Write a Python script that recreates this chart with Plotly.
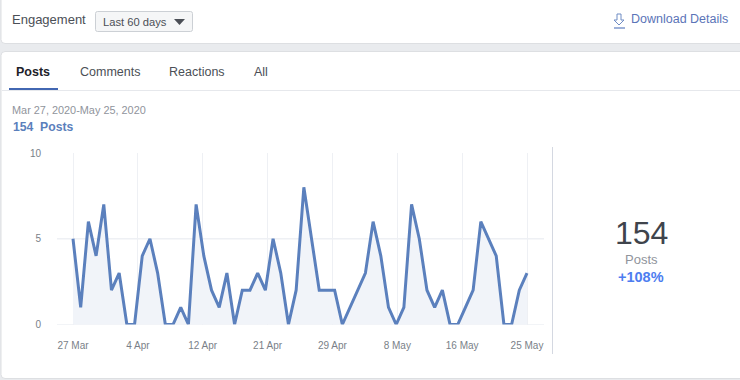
import plotly.graph_objects as go

W, H = 740, 380

# ---- data ----
posts = [5, 1, 6, 4, 7, 2, 3, 0, 0, 4, 5, 3, 0, 0, 1, 0, 7, 4, 2, 1, 3, 0, 2, 2, 3, 2, 5, 3, 0,
         2, 8, 5, 2, 2, 2, 0, 1, 2, 3, 6, 4, 1, 0, 1, 7, 5, 2, 1, 2, 0, 0, 1, 2, 6, 5, 4, 0, 0, 2, 3]
tick_labels = ["27 Mar", "4 Apr", "12 Apr", "21 Apr", "29 Apr", "8 May", "16 May", "25 May"]
y_ticks = [0, 5, 10]
day_index = list(range(len(posts)))
tick_positions = [(len(posts) - 1) * i / (len(tick_labels) - 1) for i in range(len(tick_labels))]

# ---- styles ----
FONT = "Liberation Sans, Arial, sans-serif"
PAGE = "#e9ebee"
LINE = "#5b80bd"
FILL = "#f1f4f9"
GRID = "#eef0f4"


def px(x):
    return x / W


def py(y):
    return 1 - y / H


def rrect(x0, y0, x1, y1, r, fill, line=None, lw=1):
    path = (f"M {px(x0 + r)} {py(y0)} L {px(x1 - r)} {py(y0)} Q {px(x1)} {py(y0)} {px(x1)} {py(y0 + r)} "
            f"L {px(x1)} {py(y1 - r)} Q {px(x1)} {py(y1)} {px(x1 - r)} {py(y1)} "
            f"L {px(x0 + r)} {py(y1)} Q {px(x0)} {py(y1)} {px(x0)} {py(y1 - r)} "
            f"L {px(x0)} {py(y0 + r)} Q {px(x0)} {py(y0)} {px(x0 + r)} {py(y0)} Z")
    return dict(type="path", xref="paper", yref="paper", path=path, fillcolor=fill,
                line=dict(color=line or fill, width=lw if line else 0), layer="below")


def rect(x0, y0, x1, y1, fill):
    return dict(type="rect", xref="paper", yref="paper", x0=px(x0), x1=px(x1), y0=py(y1), y1=py(y0),
                fillcolor=fill, line=dict(width=0), layer="below")


def poly(points, color, width=1.2, fill=None, close=False):
    d = "M " + " L ".join(f"{px(a)} {py(b)}" for a, b in points) + (" Z" if close else "")
    return dict(type="path", xref="paper", yref="paper", path=d,
                fillcolor=fill or "rgba(0,0,0,0)", line=dict(color=color, width=width), layer="above")


def text(x, y, s, size, color, anchor="left", bold=False):
    return dict(xref="paper", yref="paper", x=px(x), y=py(y), text=f"<b>{s}</b>" if bold else s,
                showarrow=False, xanchor=anchor, yanchor="middle",
                font=dict(family=FONT, size=size, color=color))


shapes = [
    rrect(1, -8, 745, 43.5, 4, "#ffffff", "#dddfe2"),
    rrect(1, 51.5, 745, 378.5, 4, "#ffffff", "#dddfe2"),
    rrect(95.5, 11.5, 192.5, 31.5, 2, "#f5f6f7", "#ccd0d5"),
    poly([(174, 19), (185, 19), (179.5, 25)], "#4b4f56", 0, "#4b4f56", True),
    rect(2, 90, 740, 91, "#e6e8ec"),
    rect(9, 88, 58, 90, "#4267b2"),
    rect(552, 147, 553, 354, "#d4d8e1"),
    # download icon
    poly([(617, 14), (621, 14), (621, 20), (624, 20), (619, 25), (614, 20), (617, 20), (617, 14)], "#6f8cc4", 1),
    poly([(614, 28), (625, 28)], "#5f7fc0", 1.2),
    # horizontal grid line at 5
    dict(type="line", xref="paper", yref="y", x0=px(57), x1=px(544), y0=5, y1=5,
         line=dict(color=GRID, width=1.5), layer="below"),
]

annotations = [
    text(10, 20, "Engagement", 13, "#4b4f56"),
    text(101, 21.5, "Last 60 days", 11.2, "#4b4f56"),
    text(629, 19.5, "Download Details", 12.5, "#5b74b8"),
    text(14, 72, "Posts", 12.5, "#1d2129", bold=True),
    text(78, 72, "Comments", 12.5, "#4b4f56"),
    text(167, 72, "Reactions", 12.5, "#4b4f56"),
    text(252, 72, "All", 12.5, "#4b4f56"),
    text(10, 109.5, "Mar 27, 2020-May 25, 2020", 10.9, "#90949c"),
    text(11, 127, "154&nbsp;&nbsp;Posts", 12.2, "#5b7fbc", bold=True),
    text(641, 233, "154", 32, "#3f444c", "center"),
    text(641, 259, "Posts", 13, "#90949c", "center"),
    text(641, 277, "+108%", 14.5, "#4d7df0", "center", bold=True),
]

fig = go.Figure(go.Scatter(
    x=day_index, y=posts, mode="lines", fill="tozeroy", fillcolor=FILL,
    line=dict(color=LINE, width=3, shape="linear"), hoverinfo="skip",
))

x_left, x_right = 57, 544
first, last = 73, 527
per_day = (last - first) / (len(posts) - 1)

fig.update_layout(
    width=W, height=H, autosize=False,
    margin=dict(l=0, r=0, t=0, b=0, autoexpand=False),
    paper_bgcolor=PAGE, plot_bgcolor="rgba(0,0,0,0)",
    showlegend=False,
    shapes=shapes, annotations=annotations,
    font=dict(family=FONT),
    xaxis=dict(
        domain=[px(x_left), px(x_right)],
        range=[(x_left - first) / per_day, (x_right - first) / per_day],
        tickmode="array", tickvals=tick_positions, ticktext=tick_labels,
        showgrid=True, gridcolor=GRID, gridwidth=1, zeroline=False, showline=False,
        ticks="", tickfont=dict(family=FONT, size=10, color="#7a7f88"), ticklabelstandoff=13,
    ),
    yaxis=dict(
        domain=[py(324.5), py(153)],
        range=[0, 10],
        tickmode="array", tickvals=y_ticks,
        showgrid=False, zeroline=False, showline=True, mirror=False, linecolor="rgba(0,0,0,0)",
        ticks="", tickfont=dict(family=FONT, size=10, color="#7a7f88"), ticklabelstandoff=13,
    ),
)
fig.add_shape(type="line", xref="paper", yref="y", x0=px(x_left), x1=px(x_right), y0=0, y1=0,
              line=dict(color="#e6e9ef", width=1), layer="below")

fig.write_html("out.html", config=dict(displayModeBar=False),
               post_script="document.body.style.margin='0';document.body.style.background='#e9ebee';")
